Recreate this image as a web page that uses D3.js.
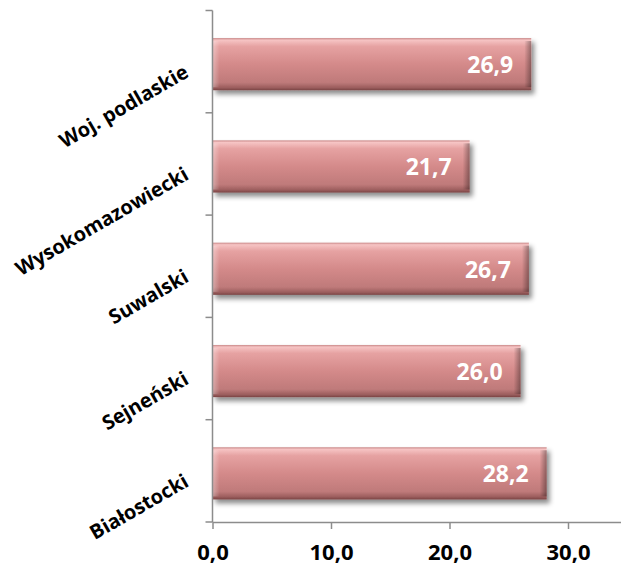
<!DOCTYPE html>
<html><head><meta charset="utf-8">
<script src="https://cdn.jsdelivr.net/npm/d3@7"></script>
<style>html,body{margin:0;padding:0;background:#fff;}svg{display:block;}</style>
</head><body>
<script>
const categories = ["Woj. podlaskie", "Wysokomazowiecki", "Suwalski", "Sejneński", "Białostocki"];
const values = [26.9, 21.7, 26.7, 26.0, 28.2];
const tickValues = [0, 10, 20, 30];

const W = 621, H = 567;
const svg = d3.select("body").append("svg").attr("width", W).attr("height", H);
const font = "'Open Sans', 'DejaVu Sans', sans-serif";

const x = d3.scaleLinear().domain([0, 35]).range([212.5, 212.5 + 35 * 11.85]);
const y = d3.scaleBand().domain(categories).range([10.5, 522]).paddingInner(0.49).paddingOuter(0.245).align(0.55);

const defs = svg.append("defs");
const g1 = defs.append("linearGradient").attr("id", "barGrad").attr("x1", 0).attr("y1", 0).attr("x2", 0).attr("y2", 1);
[[0, "#c98888"], [0.04, "#f6c4c4"], [0.16, "#e6a2a2"], [0.5, "#d48a8a"], [0.85, "#bf7a7a"], [0.95, "#9c5e5e"], [1, "#7a4444"]]
  .forEach(s => g1.append("stop").attr("offset", s[0]).attr("stop-color", s[1]));
const g2 = defs.append("linearGradient").attr("id", "edgeGrad").attr("x1", 0).attr("y1", 0).attr("x2", 1).attr("y2", 0);
[[0, "#000", 0], [1, "#000", 0.35]].forEach(s => g2.append("stop").attr("offset", s[0]).attr("stop-color", s[1]).attr("stop-opacity", s[2]));
const g3 = defs.append("linearGradient").attr("id", "leftGrad").attr("x1", 0).attr("y1", 0).attr("x2", 1).attr("y2", 0);
[[0, "#fff", 0.35], [1, "#fff", 0]].forEach(s => g3.append("stop").attr("offset", s[0]).attr("stop-color", s[1]).attr("stop-opacity", s[2]));
const f = defs.append("filter").attr("id", "shadow").attr("x", "-10%").attr("y", "-30%").attr("width", "130%").attr("height", "180%");
f.append("feDropShadow").attr("dx", 3).attr("dy", 4).attr("stdDeviation", 2.5).attr("flood-color", "#000").attr("flood-opacity", 0.45);

const bars = svg.append("g").selectAll("g").data(categories).join("g");
bars.append("rect")
  .attr("x", x(0)).attr("y", d => y(d))
  .attr("width", (d, i) => x(values[i]) - x(0)).attr("height", y.bandwidth())
  .attr("fill", "url(#barGrad)").attr("filter", "url(#shadow)");
bars.append("rect")
  .attr("x", (d, i) => x(values[i]) - 7).attr("y", d => y(d) + 3)
  .attr("width", 7).attr("height", y.bandwidth() - 6)
  .attr("fill", "url(#edgeGrad)");
bars.append("rect")
  .attr("x", x(0)).attr("y", d => y(d) + 3)
  .attr("width", 7).attr("height", y.bandwidth() - 6)
  .attr("fill", "url(#leftGrad)");

bars.append("text")
  .attr("x", (d, i) => x(values[i]) - 18)
  .attr("y", d => y(d) + y.bandwidth() / 2 + 9)
  .attr("text-anchor", "end")
  .attr("font-family", font).attr("font-weight", "bold").attr("font-size", 23)
  .attr("fill", "#fff")
  .text((d, i) => values[i].toFixed(1).replace(".", ","));

// axes
const axisColor = "#8c8c8c";
const xAxis = svg.append("g").attr("transform", "translate(0,522)")
  .call(d3.axisBottom(x).tickValues(tickValues).tickSize(7).tickSizeOuter(0).tickFormat(d => d.toFixed(1).replace(".", ",")));
xAxis.select(".domain").attr("stroke", axisColor).attr("stroke-width", 1.5);
xAxis.selectAll(".tick line").attr("stroke", axisColor).attr("stroke-width", 1.5);
xAxis.selectAll(".tick text").attr("font-family", font).attr("font-weight", "bold").attr("font-size", 22)
  .attr("fill", "#000").attr("dy", null).attr("y", 38);

svg.append("line").attr("x1", x(0)).attr("x2", x(0)).attr("y1", y.range()[0]).attr("y2", y.range()[1])
  .attr("stroke", axisColor).attr("stroke-width", 1.5);
const boundaries = d3.range(categories.length + 1).map(i => y.range()[0] + i * (y.range()[1] - y.range()[0]) / categories.length);
svg.append("g").selectAll("line").data(boundaries).join("line")
  .attr("x1", x(0) - 7).attr("x2", x(0)).attr("y1", d => d).attr("y2", d => d)
  .attr("stroke", axisColor).attr("stroke-width", 1.5);

svg.append("g").selectAll("text").data(categories).join("text")
  .attr("transform", d => `translate(190,${y(d) + y.bandwidth() / 2 + 12}) rotate(-30)`)
  .attr("text-anchor", "end")
  .attr("font-family", font).attr("font-weight", "bold").attr("font-size", 20)
  .attr("fill", "#000")
  .text(d => d);
</script>
</body></html>
